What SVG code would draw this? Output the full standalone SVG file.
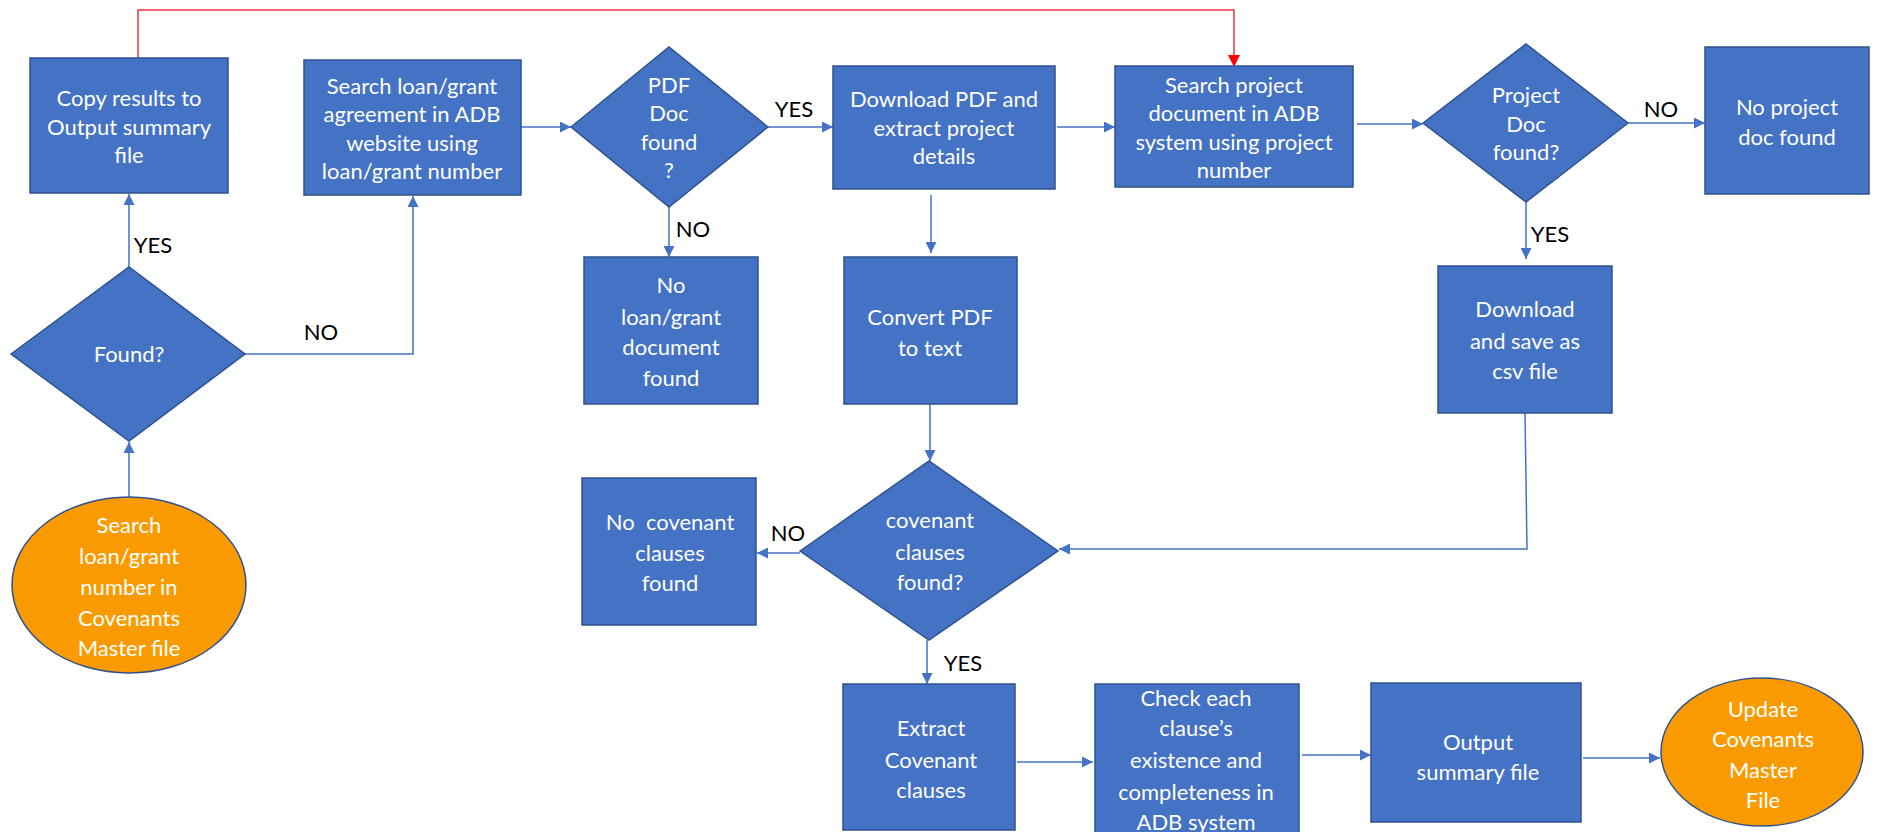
<svg xmlns="http://www.w3.org/2000/svg" width="1879" height="832" viewBox="0 0 1879 832">
  <style>
    .box { fill: #4472C4; stroke: #2F528F; stroke-width: 1.5; }
    .term { fill: #F99B00; stroke: #2F528F; stroke-width: 1.5; }
    .t { font-family: Lato, "Liberation Sans", sans-serif; font-size: 22px; fill: #FFFFFF; text-anchor: middle; }
    .lbl { font-family: Lato, "Liberation Sans", sans-serif; font-size: 22px; fill: #000000; text-anchor: middle; }
    .c { fill: none; stroke: #4472C4; stroke-width: 1.5; marker-end: url(#ah); }
    .r { fill: none; stroke: #F0323C; stroke-width: 1.5; marker-end: url(#ahr); }
  </style>
  <defs>
    <marker id="ah" viewBox="0 0 10 10" refX="10" refY="5" markerWidth="11" markerHeight="11" markerUnits="userSpaceOnUse" orient="auto">
      <path d="M0,0 L10,5 L0,10 z" fill="#4472C4"/>
    </marker>
    <marker id="ahr" viewBox="0 0 10 10" refX="10" refY="5" markerWidth="12" markerHeight="12" markerUnits="userSpaceOnUse" orient="auto">
      <path d="M0,0 L10,5 L0,10 z" fill="#FF0000"/>
    </marker>
  </defs>
  <rect width="1879" height="832" fill="#FFFFFF"/>

  <g id="connectors">
    <polyline class="r" points="138,58 138,10 1234,10 1234,67"/>
    <line class="c" x1="129" y1="497" x2="129" y2="442"/>
    <line class="c" x1="129" y1="267" x2="129" y2="194"/>
    <polyline class="c" points="245,354 413,354 413,196"/>
    <line class="c" x1="521" y1="127" x2="571" y2="127"/>
    <line class="c" x1="768" y1="127" x2="833" y2="127"/>
    <line class="c" x1="669" y1="207" x2="669" y2="257"/>
    <line class="c" x1="1057" y1="127" x2="1115" y2="127"/>
    <line class="c" x1="931" y1="195" x2="931" y2="253"/>
    <line class="c" x1="1357" y1="124" x2="1423" y2="124"/>
    <line class="c" x1="1628" y1="123" x2="1705" y2="123"/>
    <line class="c" x1="1526" y1="202" x2="1526" y2="259"/>
    <polyline class="c" points="1525,413 1527,549 1059,549"/>
    <line class="c" x1="930" y1="404" x2="930" y2="461"/>
    <line class="c" x1="800" y1="553" x2="757" y2="553"/>
    <line class="c" x1="927" y1="640" x2="927" y2="684"/>
    <line class="c" x1="1017" y1="762" x2="1093" y2="762"/>
    <line class="c" x1="1302" y1="755" x2="1371" y2="755"/>
    <line class="c" x1="1583" y1="758" x2="1660" y2="758"/>
    <text class="lbl" x="153" y="253">YES</text>
    <text class="lbl" x="321" y="340">NO</text>
    <text class="lbl" x="794" y="117">YES</text>
    <text class="lbl" x="693" y="237">NO</text>
    <text class="lbl" x="1661" y="117">NO</text>
    <text class="lbl" x="1550" y="242">YES</text>
    <text class="lbl" x="788" y="541">NO</text>
    <text class="lbl" x="963" y="671">YES</text>
  </g>

  <g id="copy-results">
    <rect class="box" x="30" y="58" width="198" height="135"/>
    <text class="t" x="129" y="106">Copy results to</text>
    <text class="t" x="129" y="135">Output summary</text>
    <text class="t" x="129" y="163">file</text>
  </g>

  <g id="search-agreement">
    <rect class="box" x="304" y="60" width="217" height="135"/>
    <text class="t" x="412" y="94">Search loan/grant</text>
    <text class="t" x="412" y="122">agreement in ADB</text>
    <text class="t" x="412" y="151">website using</text>
    <text class="t" x="412" y="179">loan/grant number</text>
  </g>

  <g id="pdf-found">
    <polygon class="box" points="571,127 669,47 768,127 669,207"/>
    <text class="t" x="669" y="93">PDF</text>
    <text class="t" x="669" y="121">Doc</text>
    <text class="t" x="669" y="150">found</text>
    <text class="t" x="669" y="178">?</text>
  </g>

  <g id="download-pdf">
    <rect class="box" x="833" y="66" width="222" height="123"/>
    <text class="t" x="944" y="107">Download PDF and</text>
    <text class="t" x="944" y="136">extract project</text>
    <text class="t" x="944" y="164">details</text>
  </g>

  <g id="search-project">
    <rect class="box" x="1115" y="66" width="238" height="121"/>
    <text class="t" x="1234" y="93">Search project</text>
    <text class="t" x="1234" y="121">document in ADB</text>
    <text class="t" x="1234" y="150">system using project</text>
    <text class="t" x="1234" y="178">number</text>
  </g>

  <g id="project-found">
    <polygon class="box" points="1423,123 1526,44 1628,123 1526,202"/>
    <text class="t" x="1526" y="103">Project</text>
    <text class="t" x="1526" y="132">Doc</text>
    <text class="t" x="1526" y="160">found?</text>
  </g>

  <g id="no-project-doc">
    <rect class="box" x="1705" y="47" width="164" height="147"/>
    <text class="t" x="1787" y="115">No project</text>
    <text class="t" x="1787" y="145">doc found</text>
  </g>

  <g id="found">
    <polygon class="box" points="11,354 129,267 245,354 129,441"/>
    <text class="t" x="129" y="362">Found?</text>
  </g>

  <g id="search-master">
    <ellipse class="term" cx="129" cy="585" rx="117" ry="88"/>
    <text class="t" x="129" y="533">Search</text>
    <text class="t" x="129" y="564">loan/grant</text>
    <text class="t" x="129" y="595">number in</text>
    <text class="t" x="129" y="626">Covenants</text>
    <text class="t" x="129" y="656">Master file</text>
  </g>

  <g id="no-loan-doc">
    <rect class="box" x="584" y="257" width="174" height="147"/>
    <text class="t" x="671" y="293">No</text>
    <text class="t" x="671" y="325">loan/grant</text>
    <text class="t" x="671" y="355">document</text>
    <text class="t" x="671" y="386">found</text>
  </g>

  <g id="convert-pdf">
    <rect class="box" x="844" y="257" width="173" height="147"/>
    <text class="t" x="930" y="325">Convert PDF</text>
    <text class="t" x="930" y="356">to text</text>
  </g>

  <g id="save-csv">
    <rect class="box" x="1438" y="266" width="174" height="147"/>
    <text class="t" x="1525" y="317">Download</text>
    <text class="t" x="1525" y="349">and save as</text>
    <text class="t" x="1525" y="379">csv file</text>
  </g>

  <g id="clauses-found">
    <polygon class="box" points="800,551 929,461 1058,551 929,640"/>
    <text class="t" x="930" y="528">covenant</text>
    <text class="t" x="930" y="560">clauses</text>
    <text class="t" x="930" y="590">found?</text>
  </g>

  <g id="no-clauses">
    <rect class="box" x="582" y="478" width="174" height="147"/>
    <text class="t" x="670" y="530" xml:space="preserve">No  covenant</text>
    <text class="t" x="670" y="561">clauses</text>
    <text class="t" x="670" y="591">found</text>
  </g>

  <g id="extract-clauses">
    <rect class="box" x="843" y="684" width="172" height="146"/>
    <text class="t" x="931" y="736">Extract</text>
    <text class="t" x="931" y="768">Covenant</text>
    <text class="t" x="931" y="798">clauses</text>
  </g>

  <g id="check-clauses">
    <rect class="box" x="1095" y="684" width="204" height="150"/>
    <text class="t" x="1196" y="706">Check each</text>
    <text class="t" x="1196" y="736">clause’s</text>
    <text class="t" x="1196" y="768">existence and</text>
    <text class="t" x="1196" y="800">completeness in</text>
    <text class="t" x="1196" y="830">ADB system</text>
  </g>

  <g id="output-summary">
    <rect class="box" x="1371" y="683" width="210" height="139"/>
    <text class="t" x="1478" y="750">Output</text>
    <text class="t" x="1478" y="780">summary file</text>
  </g>

  <g id="update-master">
    <ellipse class="term" cx="1762" cy="752" rx="101" ry="74"/>
    <text class="t" x="1763" y="717">Update</text>
    <text class="t" x="1763" y="747">Covenants</text>
    <text class="t" x="1763" y="778">Master</text>
    <text class="t" x="1763" y="808">File</text>
  </g>
</svg>
